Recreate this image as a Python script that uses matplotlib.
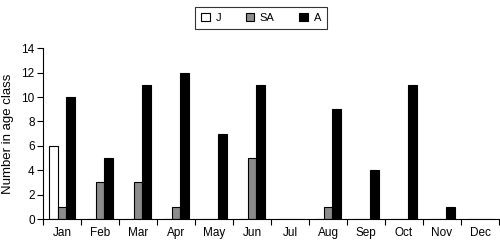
import matplotlib
matplotlib.use('Agg')
import matplotlib.pyplot as plt
import numpy as np

plt.rcParams['font.family'] = ['Liberation Sans', 'DejaVu Sans']

months = ['Jan', 'Feb', 'Mar', 'Apr', 'May', 'Jun', 'Jul', 'Aug', 'Sep', 'Oct', 'Nov', 'Dec']
juv = [6, 0, 0, 0, 0, 0, 0, 0, 0, 0, 0, 0]
subadult = [1, 3, 3, 1, 0, 5, 0, 1, 0, 0, 0, 0]
adult = [10, 5, 11, 12, 7, 11, 0, 9, 4, 11, 1, 0]

fig = plt.figure(figsize=(5, 2.41), dpi=100)
ax = fig.add_axes([0.086, 0.091, 0.912, 0.709])

x = np.arange(len(months))
w = 0.23
ax.bar(x - w, juv, w, color='white', edgecolor='black', linewidth=0.8, label='J')
ax.bar(x, subadult, w, color='#8c8c8c', edgecolor='black', linewidth=0.8, label='SA')
ax.bar(x + w, adult, w, color='black', edgecolor='black', linewidth=0.8, label='A')

ax.set_xlim(-0.5, len(months) - 0.5)
ax.set_ylim(0, 14)
ax.set_yticks(range(0, 15, 2))
ax.set_xticks(x)
ax.set_xticklabels(months)
ax.set_xticks(np.arange(-0.5, len(months)), minor=True)
ax.tick_params(axis='x', which='major', length=0, labelsize=8.5, pad=6)
ax.tick_params(axis='x', which='minor', length=4, width=0.8, direction='out')
ax.tick_params(axis='y', length=4, width=0.8, labelsize=8.5, pad=2)
ax.spines['top'].set_visible(False)
ax.spines['right'].set_visible(False)
ax.spines['left'].set_linewidth(0.8)
ax.spines['bottom'].set_linewidth(0.8)
ax.set_ylabel('Number in age class', fontsize=9.5, labelpad=5)

leg = fig.legend(loc='upper center', bbox_to_anchor=(0.522, 0.995), ncol=3, fontsize=8,
                 frameon=True, fancybox=False, edgecolor='black',
                 handlelength=0.8, handleheight=0.8, columnspacing=2.2,
                 handletextpad=0.5, borderpad=0.55)
leg.get_frame().set_linewidth(0.8)

plt.savefig('out.png', dpi=100)
plt.close()
